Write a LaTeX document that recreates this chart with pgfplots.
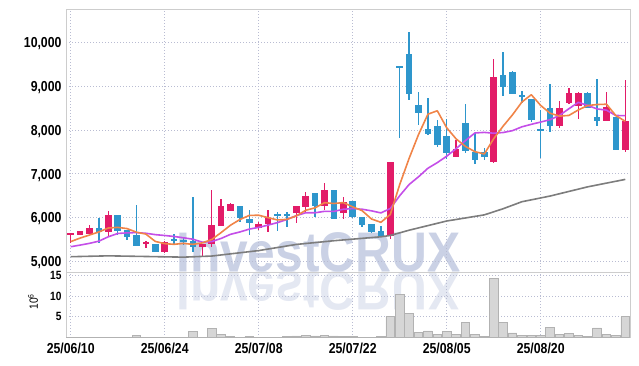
\documentclass[border=0pt]{standalone}
\usepackage{fontspec}
\setmainfont{Liberation Sans}
\newfontfamily\tickfont{Liberation Sans}[FakeStretch=0.85]
\usepackage{pgfplots}
\usepackage{pgfplotstable}
\pgfplotsset{compat=1.18}
\definecolor{upred}{RGB}{226,28,104}
\definecolor{dnblue}{RGB}{46,150,204}
\definecolor{maor}{RGB}{240,132,72}
\definecolor{mapu}{RGB}{196,78,232}
\definecolor{magr}{RGB}{125,125,125}
\definecolor{gridc}{RGB}{185,188,210}
\definecolor{axc}{RGB}{205,205,205}
\definecolor{wm}{RGB}{202,209,229}
\definecolor{volf}{RGB}{214,214,214}
\definecolor{vold}{RGB}{178,178,178}

% up (red) candles: index open high low close
\pgfplotstableread{
i o h l c
0 5620 5645 5410 5640
1 5607 5700 5600 5692
2 5630 5829 5625 5767
4 5676 6155 5562 6057
8 5411 5455 5297 5447
10 5219 5455 5196 5447
14 5333 5400 5105 5395
15 5388 6628 5333 5829
16 5813 6415 5810 6262
17 6155 6320 6150 6301
20 5753 5904 5715 5845
21 5845 6171 5676 5982
24 6096 6270 5881 6262
25 6247 6589 6110 6491
27 6269 6795 6171 6628
29 6096 6475 5966 6361
34 5578 7270 5502 7260
41 7388 7769 7380 7557
45 7274 9612 7240 9214
52 8096 8667 8036 8492
53 8607 8963 8600 8849
54 8545 8855 8241 8849
57 8210 8872 8205 8530
59 7541 9140 7502 8210
}\up

% down (blue) candles
\pgfplotstableread{
i o h l c
3 5767 5982 5411 5662
5 6057 6060 5600 5699
6 5715 5720 5486 5548
7 5600 6285 5350 5356
9 5388 5395 5210 5219
11 5509 5623 5372 5470
12 5490 5562 5372 5460
13 5463 6475 5219 5333
18 6262 6270 5904 5982
19 5959 6171 5600 5868
22 6060 6115 5700 6045
23 6060 6115 5790 6045
26 6566 6570 6018 6262
28 6628 6635 5955 5959
30 6377 6385 5995 6004
31 6004 6010 5790 5829
32 5852 5860 5639 5676
33 5699 5806 5560 5578
35 9443 9443 7808 9410
36 9733 10228 8680 8820
37 8568 8858 8112 8392
38 8030 8721 7883 7906
39 8089 8226 7617 7655
40 7860 8242 7329 7466
42 8165 8590 7466 7525
43 7502 7922 7215 7313
44 7502 7594 7313 7388
46 9253 9771 8781 8987
47 9328 9340 8810 8820
48 8800 8888 8607 8770
49 8698 8710 8187 8225
50 8010 8454 7351 7990
51 8492 9041 7959 8096
55 8849 8855 8490 8493
56 8287 9155 8085 8210
58 8287 8295 7535 7541
}\down

% moving averages: 5, 10
\pgfplotstableread{
i m5 m10
0 5450 5333
1 5530 5370
2 5600 5410
3 5670 5460
4 5760 5560
5 5775 5635
6 5747 5650
7 5664 5655
8 5621 5640
9 5454 5609
10 5403 5589
11 5388 5567
12 5409 5537
13 5386 5504
14 5421 5437
15 5497 5450
16 5656 5522
17 5824 5616
18 5954 5670
19 6048 5735
20 6052 5775
21 5996 5826
22 5944 5884
23 5957 5955
24 6036 6042
25 6165 6108
26 6221 6108
27 6338 6141
28 6320 6139
29 6340 6188
30 6243 6204
31 6156 6189
32 5966 6152
33 5890 6105
34 6069 6205
35 6751 6497
36 7349 6753
37 7892 6929
38 8358 7124
39 8437 7253
40 8048 7399
41 7795 7572
42 7622 7757
43 7503 7930
44 7450 7943
45 7799 7924
46 8085 7940
47 8344 7983
48 8636 8070
49 8803 8127
50 8558 8179
51 8380 8233
52 8315 8330
53 8330 8483
54 8455 8629
55 8556 8557
56 8579 8479
57 8586 8450
58 8325 8328
59 8197 8326
}\ma

% long moving average
\pgfplotstableread{
i m
0 5105
4 5125
8 5110
12 5095
15 5120
18 5195
20 5245
24 5385
28 5470
33 5560
34 5590
36 5710
40 5920
44 6060
46 6200
48 6360
51 6490
55 6700
59 6870
}\malong

% volume in millions
\pgfplotstableread{
i v
0 0.1
1 0.1
2 0.1
3 0.1
4 0.1
5 0.1
6 0.1
7 0.5
8 0.1
9 0.1
10 0.1
11 0.1
12 0.1
13 1.5
14 0.1
15 2.2
16 0.8
17 0.3
18 0.1
19 0.3
20 0.1
21 0.1
22 0.1
23 0.3
24 0.4
25 0.6
26 0.4
27 0.6
28 0.4
29 0.3
30 0.3
31 0.1
32 0.1
33 0.2
34 5.0
35 10.4
36 5.8
37 1.3
38 1.6
39 0.8
40 1.5
41 0.7
42 3.6
43 0.8
44 0.3
45 14.2
46 3.6
47 1.1
48 0.5
49 0.5
50 0.5
51 2.4
52 0.8
53 1.0
54 0.5
55 0.3
56 2.3
57 0.8
58 0.5
59 5.0
}\vol

\pgfplotsset{
  nomark/.style={only marks, mark=*, mark size=0pt, mark options={draw opacity=0, fill opacity=0}},
  candle/.style={nomark,
    error bars/.cd, y dir=both, y explicit, error mark=none,
    error bar style={draw=#1, line width=6.6bp}},
  wick/.style={nomark,
    error bars/.cd, y dir=both, y explicit, error mark=none,
    error bar style={draw=#1, line width=1.3bp}},
  common/.style={
    scale only axis, width=564bp,
    xmin=-0.5, xmax=59.5,
    xtick={0,10,20,30,40,50},
    grid=major,
    major grid style={draw=gridc, line width=0.7bp, dash pattern=on 0.8bp off 2.2bp},
    axis line style={draw=axc, line width=0.8bp},
    major tick length=0pt,
    scaled y ticks=false,
    /pgf/number format/assume math mode=true,
    /pgf/number format/1000 sep={,},
  },
}

\begin{document}
\begin{tikzpicture}
\useasboundingbox (0bp,0bp) rectangle (639bp,366bp);
% watermark and its reflection
\node[anchor=base west, text=wm, inner sep=0pt, font=\fontsize{56}{56}\selectfont\bfseries] at (176bp,94bp) {\scalebox{0.89}[1]{InvestCRUX}};
\node[anchor=base west, text=wm, opacity=0.5, inner sep=0pt, font=\fontsize{56}{56}\selectfont\bfseries] at (176bp,94bp) {\scalebox{0.89}[-1]{InvestCRUX}};

\begin{axis}[common,
  at={(66bp,93.3bp)}, anchor=south west, height=263.4bp,
  ymin=4740, ymax=10753,
  ytick={5000,6000,7000,8000,9000,10000},
  xticklabels={},
  yticklabel style={font=\tickfont\bfseries\fontsize{14.5}{14.5}\selectfont, xshift=-1bp, yshift=-1.5bp},
]
\addplot[wick=upred] table[x=i, y expr={(\thisrow{h}+\thisrow{l})/2}, y error expr={(\thisrow{h}-\thisrow{l})/2}] {\up};
\addplot[candle=upred] table[x=i, y expr={(\thisrow{o}+\thisrow{c})/2}, y error expr={max(abs(\thisrow{c}-\thisrow{o})/2,22)}] {\up};
\addplot[wick=dnblue] table[x=i, y expr={(\thisrow{h}+\thisrow{l})/2}, y error expr={(\thisrow{h}-\thisrow{l})/2}] {\down};
\addplot[candle=dnblue] table[x=i, y expr={(\thisrow{o}+\thisrow{c})/2}, y error expr={max(abs(\thisrow{c}-\thisrow{o})/2,22)}] {\down};
\addplot[magr, line width=1.6bp, line join=round] table[x=i, y=m] {\malong};
\addplot[mapu, line width=1.6bp, line join=round] table[x=i, y=m10] {\ma};
\addplot[maor, line width=1.6bp, line join=round] table[x=i, y=m5] {\ma};
\end{axis}

\begin{axis}[common,
  at={(66bp,28.5bp)}, anchor=south west, height=64.8bp,
  ymin=0, ymax=15.6,
  ytick={5,10,15},
  xticklabels={25/06/10,25/06/24,25/07/08,25/07/22,25/08/05,25/08/20},
  xticklabel style={font=\tickfont\bfseries\fontsize{14.5}{14.5}\selectfont, yshift=-2bp},
  yticklabel style={font=\tickfont\bfseries\fontsize{12}{12}\selectfont, xshift=-1bp},
  ylabel={10\textsuperscript{6}},
  ylabel style={font=\tickfont\fontsize{12}{12}\selectfont, at={(axis description cs:-0.0585,0.55)}, anchor=center},
]
\addplot[ybar, bar width=8.6bp, fill=volf, draw=vold, line width=0.6bp] table[x=i, y=v] {\vol};
\end{axis}
\end{tikzpicture}
\end{document}
